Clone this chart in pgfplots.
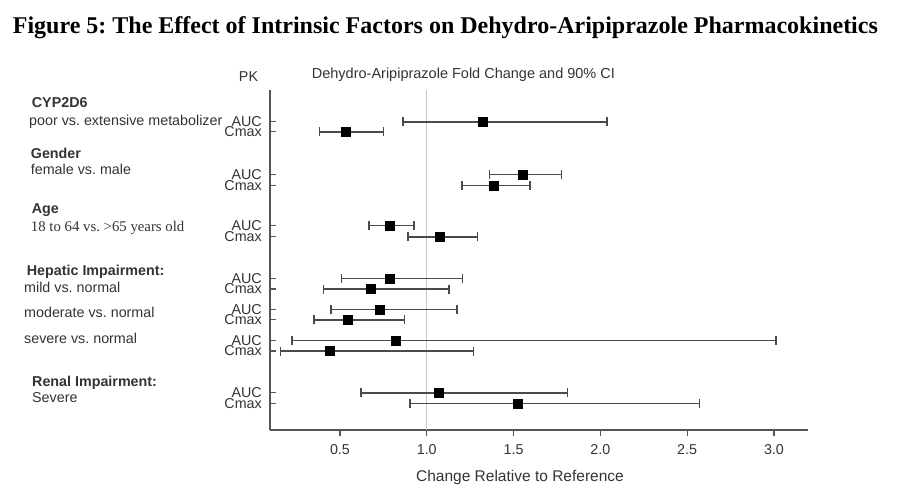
\documentclass[border=0pt]{standalone}
\usepackage{pgfplots}
\pgfplotsset{compat=1.18}
\usepackage{pgfplotstable}
\usepackage{fontspec}
\setmainfont{Liberation Sans}
\newfontfamily\tnr{Liberation Serif}
\definecolor{txt}{HTML}{333333}
\definecolor{axc}{HTML}{555555}
\definecolor{barc}{HTML}{4A4A4A}
\definecolor{gridc}{HTML}{C8C8C8}

\pgfplotstableread{
y est lo hi
377.3 1.323 0.862 2.039
367.3 0.535 0.381 0.750
324.7 1.553 1.361 1.777
313.7 1.384 1.203 1.595
273.7 0.789 0.668 0.927
262.3 1.073 0.892 1.291
220.7 0.789 0.510 1.207
210.0 0.677 0.404 1.127
189.7 0.729 0.449 1.173
179.3 0.547 0.351 0.871
158.7 0.819 0.224 3.012
148.0 0.443 0.157 1.268
106.3 1.069 0.622 1.810
95.7 1.524 0.904 2.570
}\pkdata

\newcommand{\lf}{\fontsize{14.3}{16}\selectfont}
\frenchspacing

\begin{document}
\begin{tikzpicture}
\useasboundingbox (0pt,0pt) rectangle (902pt,499pt);
\begin{axis}[
  at={(270pt,69pt)}, anchor=south west,
  scale only axis, width=538.3pt, height=340pt,
  xmin=0.097, xmax=3.198, ymin=69, ymax=409,
  axis lines=left,
  axis line style={-, axc, line width=1.4pt},
  tick align=inside,
  major tick length=6pt,
  tick style={axc, line width=1.2pt},
  xtick={0.5,1.0,1.5,2.0,2.5,3.0},
  xtick style={yshift=-6pt},
  /pgf/number format/assume math mode=true,
  xticklabel style={/pgf/number format/.cd, fixed, fixed zerofill, precision=1, /tikz/.cd,
    inner sep=0pt, yshift=-14pt, font=\lf, text=txt},
  ytick={377.3,367.3,324.7,313.7,273.7,262.3,220.7,210.0,189.7,179.3,158.7,148.0,106.3,95.7},
  yticklabels={AUC,Cmax,AUC,Cmax,AUC,Cmax,AUC,Cmax,AUC,Cmax,AUC,Cmax,AUC,Cmax},
  yticklabel style={inner sep=0pt, xshift=-8pt, font=\lf, text=txt},
  extra x ticks={1},
  extra x tick labels={},
  extra x tick style={grid=major, major grid style={gridc, line width=0.9pt}, major tick length=0pt},
  xlabel={Change Relative to Reference},
  every axis x label/.style={at={(rel axis cs:0.4644,0)}, anchor=center, yshift=-47pt,
    font=\fontsize{15.5}{18}\selectfont, text=txt},
]
\addplot[only marks, mark=square*, mark size=4.5pt, mark options={black, fill=black}, black,
  error bars/.cd, x dir=both, x explicit,
  error mark=|,
  error bar style={barc, line width=1.6pt},
  error mark options={barc, line width=1.5pt, mark size=4.5pt}]
  table[x=est, y=y, x error plus expr=\thisrow{hi}-\thisrow{est},
        x error minus expr=\thisrow{est}-\thisrow{lo}] {\pkdata};
\end{axis}

\node[anchor=base west, inner sep=0pt, font=\tnr\bfseries\fontsize{24}{28}\selectfont] at (12.7pt,465pt)
  {Figure 5: The Effect of Intrinsic Factors on Dehydro-Aripiprazole Pharmacokinetics};
\node[anchor=west, inner sep=0pt, font=\fontsize{14.5}{17}\selectfont, text=txt] at (311.7pt,424pt)
  {Dehydro-Aripiprazole Fold Change and 90\% CI};
\node[anchor=center, inner sep=0pt, font=\lf, text=txt] at (248.5pt,422pt) {PK};

\begin{scope}[every node/.style={anchor=base west, inner sep=0pt, font=\lf, text=txt}]
\node[font=\lf\bfseries] at (31.7pt,391.3pt) {CYP2D6};
\node at (29pt,373pt) {poor vs. extensive metabolizer};
\node[font=\lf\bfseries] at (30.7pt,340.7pt) {Gender};
\node at (30.7pt,324pt) {female vs. male};
\node[font=\lf\bfseries] at (31.7pt,286pt) {Age};
\node[font=\tnr\fontsize{14.8}{17}\selectfont] at (30.7pt,267.3pt) {18 to 64 vs. >65 years old};
\node[font=\lf\bfseries] at (26.7pt,223.3pt) {Hepatic Impairment:};
\node at (24pt,206.7pt) {mild vs. normal};
\node at (24pt,181.3pt) {moderate vs. normal};
\node at (24pt,155.7pt) {severe vs. normal};
\node[font=\lf\bfseries] at (32pt,112.3pt) {Renal Impairment:};
\node at (32pt,96.3pt) {Severe};
\end{scope}
\end{tikzpicture}
\end{document}
